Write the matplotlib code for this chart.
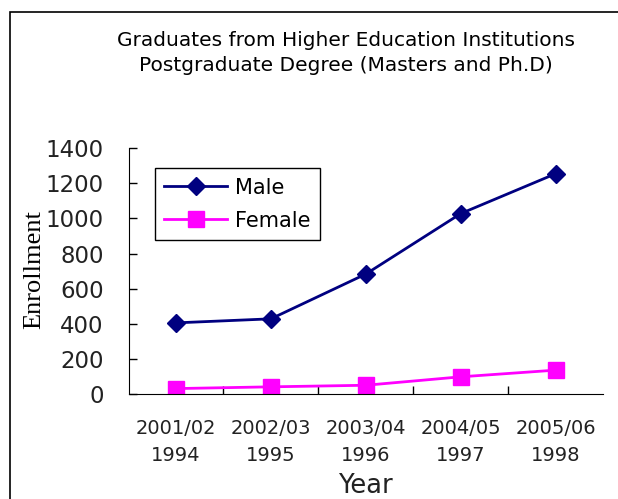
import matplotlib.pyplot as plt
from matplotlib.patches import Rectangle

years = ["2001/02\n1994", "2002/03\n1995", "2003/04\n1996", "2004/05\n1997", "2005/06\n1998"]
male = [406, 429, 684, 1028, 1255]
female = [32, 42, 51, 99, 137]
yticks = [0, 200, 400, 600, 800, 1000, 1200, 1400]

fig = plt.figure(figsize=(6.18, 4.99), dpi=100)
ax = fig.add_axes([0.208, 0.210, 0.768, 0.493])

x = range(len(years))
ax.plot(x, male, color="#000080", marker="D", markersize=9.5, linewidth=2, label="Male")
ax.plot(x, female, color="#FF00FF", marker="s", markersize=11, linewidth=2, label="Female")

ax.set_xlim(-0.5, 4.5)
ax.set_ylim(0, 1400)
ax.set_yticks(yticks)
ax.set_xticks([0.5, 1.5, 2.5, 3.5])
ax.set_xticklabels([])
ax.tick_params(axis="both", direction="in", length=6, width=1)
ax.tick_params(axis="y", labelsize=16.5, pad=18)
for lbl in ax.get_yticklabels():
    lbl.set_fontfamily("DejaVu Sans")
    lbl.set_color("#222222")

# category labels between the tick marks
for i, lab in enumerate(years):
    ax.text(i, -0.10, lab, transform=ax.get_xaxis_transform(), ha="center", va="top",
            fontsize=14, family="DejaVu Sans", linespacing=1.55, color="#222222")

for s in ["top", "right"]:
    ax.spines[s].set_visible(False)

fig.text(34 / 618, 1 - 270 / 499, "Enrollment", rotation=90, ha="center", va="center",
         family="Liberation Serif", fontsize=19)
ax.text(0.5, -0.32, "Year", transform=ax.transAxes, ha="center", va="top",
        fontsize=18.5, family="DejaVu Sans", color="#222222")

fig.text(0.560, 0.894, "Graduates from Higher Education Institutions\nPostgraduate Degree (Masters and Ph.D)",
         ha="center", va="center", fontsize=14.5, family="DejaVu Sans", linespacing=1.45)

leg = ax.legend(loc="upper left", bbox_to_anchor=(0.056, 0.918), borderaxespad=0, frameon=True,
                fancybox=False, edgecolor="black", framealpha=1, borderpad=0.45,
                handlelength=3.0, handletextpad=0.4, labelspacing=0.62,
                prop={"family": "DejaVu Sans", "size": 15})
leg.get_frame().set_linewidth(1)

# outer chart border
fig.patches.append(Rectangle((10 / 618, -0.1), 1.2, 1 - 12 / 499 + 0.1, transform=fig.transFigure,
                             fill=False, edgecolor="black", linewidth=1.2))

fig.savefig("out.png", dpi=100)
